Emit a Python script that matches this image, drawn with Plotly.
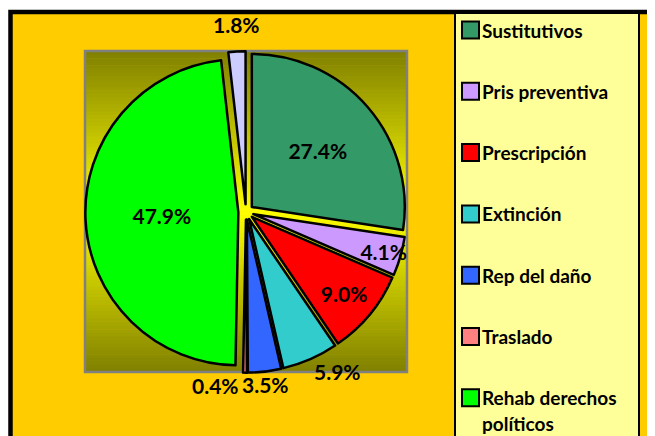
import math
import textwrap

import plotly.graph_objects as go

W, H = 655, 436
OFF = 8  # the page body margin shifts the figure by 8px

labels = ["Sustitutivos", "Pris preventiva", "Prescripción", "Extinción",
          "Rep del daño", "Traslado", "Rehab derechos políticos", "Otros"]
values = [27.4, 4.1, 9.0, 5.9, 3.5, 0.4, 47.9, 1.8]
colors = ["#339966", "#CC99FF", "#FF0000", "#33CCCC",
          "#3366FF", "#FF8080", "#00FF00", "#CCCCFF"]
outside = [False, False, False, True, True, True, False, True]


def fx(x):
    return (x - OFF) / W


def fy(y):
    return 1 - (y - OFF) / H


def box(x0, y0, x1, y1):
    return dict(xref="paper", yref="paper", x0=fx(x0), x1=fx(x1), y0=fy(y1), y1=fy(y0))


shapes = []
# outer frame
shapes.append(dict(type="rect", layer="below", fillcolor="#FFCC00",
                   line=dict(color="black", width=4.5), **box(10.5, 12, 720, 500)))
# legend panel
shapes.append(dict(type="rect", layer="below", fillcolor="#FFFF99",
                   line=dict(color="black", width=2), **box(455, 13, 639, 500)))

# plot area gradient olive -> yellow -> olive
top, bot, left, right = 51, 372, 85, 407
n = 90
step = (bot - top) / n
mid = (top + bot) / 2
for i in range(n):
    yc = top + (i + 0.5) * step
    t = abs(yc - mid) / ((bot - top) / 2)
    c = int(255 * (1 - t) + 128 * t)
    shapes.append(dict(type="rect", layer="below", fillcolor=f"rgb({c},{c},0)",
                       line=dict(width=0),
                       **box(left, top + i * step, right, top + (i + 1) * step + 0.6)))
shapes.append(dict(type="rect", layer="below", line=dict(color="#808080", width=2.5),
                   **box(left, top, right, bot)))

annotations = []
lfont = dict(family="Lato", size=19, color="black", weight="bold")
for i, (lab, col) in enumerate(zip(labels, colors)):
    yc = 30 + i * 61.3
    shapes.append(dict(type="rect", line=dict(color="black", width=2), fillcolor=col,
                       **box(462, yc - 8.5, 479, yc + 8.5)))
    for j, line in enumerate(textwrap.wrap(lab, 16)):
        annotations.append(dict(xref="paper", yref="paper", x=fx(480), y=fy(yc + j * 26),
                                xanchor="left", yanchor="middle", text=line,
                                showarrow=False, font=lfont))

pull = 0.05
cx, cy, r = 246, 212, 153
half = r * (1 + pull)
pfont = dict(family="Lato", size=21, color="black", weight="bold")

# outside labels: placed just beyond each slice's mid angle
total = sum(values)
lab_r = 166
lab_cy = cy - 7
char_w = 12
placed = []
cum = 0
for v, out in zip(values, outside):
    ang = math.radians((cum + v / 2) / total * 360)
    cum += v
    if not out:
        continue
    s, c = math.sin(ang), math.cos(ang)
    px_, py_ = cx + lab_r * s, lab_cy - lab_r * c
    txt = f"{v:.1f}%"
    wdt = len(txt) * char_w
    if abs(s) < 0.2:
        xa, x_left = "center", px_ - wdt / 2
    elif s > 0:
        xa, x_left = "left", px_
    else:
        xa, x_left = "right", px_ - wdt
    ya = "bottom" if c > 0 else "top"
    placed.append(dict(txt=txt, x=px_, y=py_, xa=xa, ya=ya, x0=x_left, x1=x_left + wdt))

# push overlapping bottom labels apart
for a in placed:
    for b in placed:
        if a is b or a["ya"] != b["ya"]:
            continue
        if a["x0"] < b["x0"] < a["x1"] and abs(a["x"] - b["x"]) < 40:
            a["x"], a["xa"] = b["x0"], "right"
            a["x0"], a["x1"] = b["x0"] - (a["x1"] - a["x0"]), b["x0"]

for p in placed:
    annotations.append(dict(xref="paper", yref="paper", x=fx(p["x"]), y=fy(p["y"]),
                            xanchor=p["xa"], yanchor=p["ya"], text=p["txt"],
                            showarrow=False, font=pfont))

fig = go.Figure(go.Pie(
    labels=labels, values=values, sort=False, direction="clockwise",
    marker=dict(colors=colors, line=dict(color="black", width=2.5)),
    pull=[pull] * len(values),
    text=[f"{v:.1f}%" if not o else "" for v, o in zip(values, outside)],
    textinfo="text", textposition="inside",
    insidetextorientation="horizontal",
    textfont=pfont,
    domain=dict(x=[fx(cx - half), fx(cx + half)], y=[fy(cy + half), fy(cy - half)]),
    showlegend=False, hoverinfo="label+percent",
))

fig.update_layout(
    width=W, height=H, margin=dict(l=0, r=0, t=0, b=0),
    paper_bgcolor="white", shapes=shapes, annotations=annotations,
    uniformtext=dict(minsize=21, mode="show"),
)
fig.write_html("out.html")
